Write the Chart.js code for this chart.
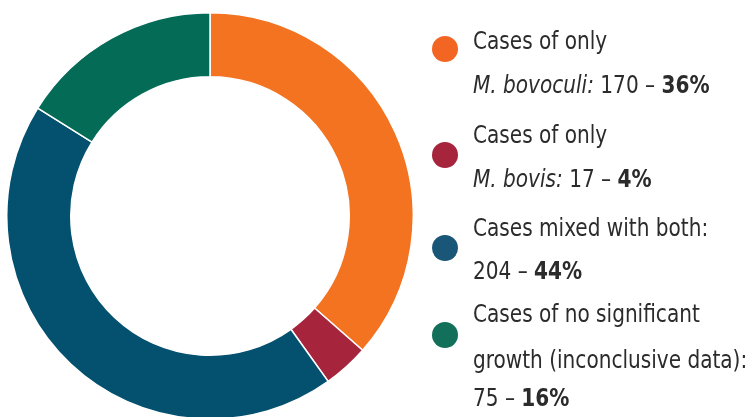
<!DOCTYPE html>
<html>
<head>
<meta charset="utf-8">
<script src="https://cdn.jsdelivr.net/npm/chart.js@4.4.0/dist/chart.umd.min.js"></script>
<style>
  html, body { margin: 0; padding: 0; background: #fff; overflow: hidden; }
  body { width: 748px; height: 417px; position: relative; }
  #chart-box { position: absolute; left: 6px; top: 12px; width: 408px; height: 408px; }
  #legend { position: absolute; left: 0; top: 0; width: 748px; height: 417px; pointer-events: none;
    font-family: "DejaVu Sans Condensed", "Liberation Sans Narrow", "Roboto", sans-serif; color: #2b2b2b; }
  .dot { position: absolute; width: 26px; height: 26px; border-radius: 50%; }
  .line { position: absolute; left: 473px; font-size: 24px; line-height: 24px; white-space: nowrap;
    transform: scaleX(0.93); transform-origin: 0 0; }
  .line b { font-weight: bold; }
</style>
</head>
<body>
<div id="chart-box"><canvas id="donut"></canvas></div>
<div id="legend"></div>

<script>
const categories = [
  "Cases of only M. bovoculi",
  "Cases of only M. bovis",
  "Cases mixed with both",
  "Cases of no significant growth (inconclusive data)"
];
const counts = [170, 17, 204, 75];
const percents = [36, 4, 44, 16];
const colors = ["#F37321", "#A6253C", "#03506F", "#046B56"];
const legendDots = ["#F26522", "#A6253C", "#1A5677", "#12705A"];

// legend text lines per category (html), with baseline y of each line
const legendLines = [
  ["Cases of only", "<i>M. bovoculi:</i> 170 – <b>36%</b>"],
  ["Cases of only", "<i>M. bovis:</i> 17 – <b>4%</b>"],
  ["Cases mixed with both:", "204 – <b>44%</b>"],
  ["Cases of no significant", "growth (inconclusive data):", "75 – <b>16%</b>"]
];
const lineBaselines = [[48, 92], [142, 186], [235, 278], [321, 367, 405]];
const dotCenters = [49, 155, 248, 335];

const legend = document.getElementById("legend");
legendLines.forEach((lines, i) => {
  const dot = document.createElement("div");
  dot.className = "dot";
  dot.style.background = legendDots[i];
  dot.style.left = (445 - 13) + "px";
  dot.style.top = (dotCenters[i] - 13) + "px";
  legend.appendChild(dot);

  lines.forEach((txt, j) => {
    const el = document.createElement("div");
    el.className = "line";
    el.innerHTML = txt;
    el.style.top = (lineBaselines[i][j] - 19) + "px";
    legend.appendChild(el);
  });
});

new Chart(document.getElementById("donut"), {
  type: "doughnut",
  data: {
    labels: categories,
    datasets: [{
      data: counts,
      backgroundColor: colors,
      borderColor: "#ffffff",
      borderWidth: 1.5
    }]
  },
  options: {
    responsive: true,
    maintainAspectRatio: false,
    animation: false,
    cutout: "68.5%",
    layout: { padding: 0 },
    plugins: {
      legend: { display: false },
      tooltip: { enabled: false }
    }
  }
});
</script>
</body>
</html>
